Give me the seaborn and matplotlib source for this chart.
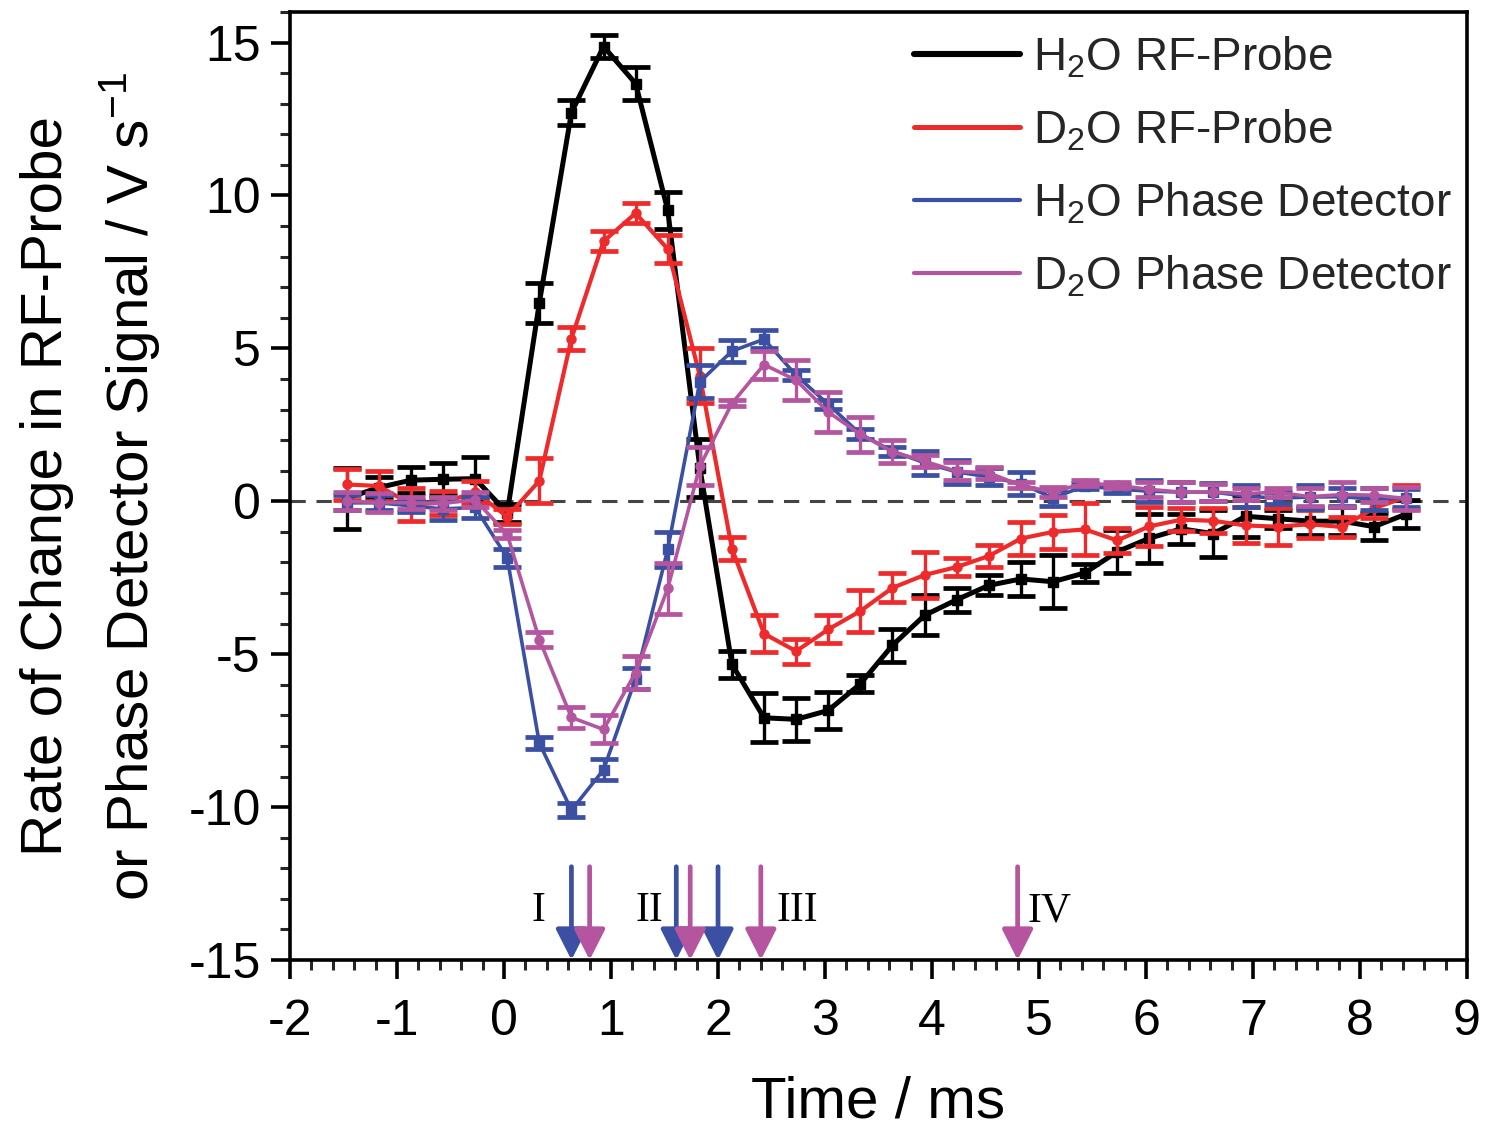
import numpy as np
import pandas as pd
import matplotlib
matplotlib.use("Agg")
import matplotlib.pyplot as plt
import seaborn as sns
from matplotlib.ticker import MultipleLocator
from matplotlib.lines import Line2D

# ---------------- data ----------------
time_ms = [-1.47, -1.17, -0.87, -0.57, -0.27, 0.03, 0.33, 0.63, 0.93, 1.23,
           1.53, 1.83, 2.13, 2.43, 2.73, 3.03, 3.33, 3.63, 3.93, 4.23,
           4.53, 4.83, 5.13, 5.43, 5.73, 6.03, 6.33, 6.63, 6.93, 7.23,
           7.53, 7.83, 8.13, 8.43]

h2o_rf = [0.1, 0.45, 0.69, 0.72, 0.74, -0.38, 6.49, 12.71, 14.87, 13.66,
          9.52, 1.1, -5.33, -7.08, -7.13, -6.84, -5.97, -4.71, -3.73, -3.22,
          -2.75, -2.54, -2.63, -2.34, -1.65, -1.21, -0.9, -1.06, -0.49, -0.57,
          -0.65, -0.65, -0.83, -0.42]
h2o_rf_err = [1.0, 0.35, 0.43, 0.52, 0.71, 0.3, 0.65, 0.41, 0.38, 0.55,
              0.6, 0.95, 0.45, 0.8, 0.7, 0.6, 0.28, 0.55, 0.65, 0.4,
              0.33, 0.55, 0.87, 0.3, 0.7, 0.8, 0.5, 0.77, 0.68, 0.3,
              0.46, 0.45, 0.45, 0.45]

d2o_rf = [0.55, 0.5, -0.1, -0.05, 0.3, -0.5, 0.67, 5.32, 8.5, 9.42,
          8.25, 4.1, -1.55, -4.33, -4.9, -4.19, -3.59, -2.83, -2.41, -2.15,
          -1.79, -1.22, -1.0, -0.92, -1.28, -0.82, -0.6, -0.64, -0.79, -0.83,
          -0.75, -0.84, -0.23, 0.14]
d2o_rf_err = [0.5, 0.5, 0.55, 0.4, 0.35, 0.25, 0.74, 0.38, 0.33, 0.32,
              0.47, 0.9, 0.38, 0.6, 0.41, 0.46, 0.68, 0.47, 0.76, 0.28,
              0.35, 0.55, 0.55, 0.85, 0.4, 0.63, 0.38, 0.41, 0.59, 0.6,
              0.46, 0.33, 0.33, 0.38]

h2o_pd = [-0.05, -0.05, -0.15, -0.25, -0.2, -1.85, -7.91, -10.1, -8.78, -5.8,
          -1.57, 3.91, 4.91, 5.3, 4.12, 3.17, 2.2, 1.64, 1.26, 0.96,
          0.8, 0.58, 0.11, 0.5, 0.4, 0.33, 0.3, 0.3, 0.17, 0.1,
          0.14, 0.15, 0.07, 0.1]
h2o_pd_err = [0.25, 0.25, 0.2, 0.37, 0.35, 0.3, 0.2, 0.22, 0.34, 0.35,
              0.57, 0.54, 0.35, 0.3, 0.17, 0.15, 0.15, 0.15, 0.4, 0.38,
              0.28, 0.38, 0.25, 0.1, 0.12, 0.35, 0.33, 0.3, 0.36, 0.2,
              0.38, 0.3, 0.36, 0.3]

d2o_pd = [0.0, -0.04, -0.05, -0.07, 0.05, -1.08, -4.52, -7.07, -7.46, -5.6,
          -2.85, 1.15, 3.2, 4.47, 3.96, 2.92, 2.19, 1.62, 1.31, 0.98,
          0.93, 0.52, 0.3, 0.6, 0.52, 0.39, 0.3, 0.3, 0.25, 0.3,
          0.15, 0.22, 0.2, 0.09]
d2o_pd_err = [0.3, 0.3, 0.2, 0.22, 0.25, 0.13, 0.25, 0.35, 0.46, 0.55,
              0.82, 0.63, 0.1, 0.46, 0.65, 0.65, 0.57, 0.38, 0.19, 0.3,
              0.19, 0.1, 0.16, 0.1, 0.1, 0.25, 0.33, 0.28, 0.2, 0.15,
              0.3, 0.41, 0.22, 0.38]

series_labels = ["H$_2$O RF-Probe", "D$_2$O RF-Probe",
                 "H$_2$O Phase Detector", "D$_2$O Phase Detector"]

arrow_x_h2o = [0.63, 1.61, 2.0]
arrow_x_d2o = [0.8, 1.74, 2.4, 4.8]
region_labels = ["I", "II", "III", "IV"]
region_x = [0.32, 1.36, 2.74, 5.1]

# ---------------- style ----------------
sns.set_theme(style="ticks")
plt.rcParams["font.family"] = ["Liberation Sans", "DejaVu Sans"]
plt.rcParams["mathtext.default"] = "regular"
plt.rcParams["axes.unicode_minus"] = False

C_BLACK = "#000000"
C_RED = "#EE2A2B"
C_BLUE = "#3B4FA3"
C_PURPLE = "#B5559F"

fig = plt.figure(figsize=(14.85, 11.33), dpi=100)
ax = fig.add_axes([0.1953, 0.1527, 0.7926, 0.8367])

df = pd.DataFrame({"time": time_ms})
specs = [
    (h2o_rf, h2o_rf_err, C_BLACK, 3.6, "s", 1),
    (d2o_rf, d2o_rf_err, C_RED, 3.0, "o", 2),
    (h2o_pd, h2o_pd_err, C_BLUE, 2.6, "s", 3),
    (d2o_pd, d2o_pd_err, C_PURPLE, 2.6, "o", 4),
]
handles = []
for (vals, errs, col, lw, mk, z), lab in zip(specs, series_labels):
    df["val"] = vals
    sns.lineplot(data=df, x="time", y="val", color=col, linewidth=lw,
                 ax=ax, legend=False, zorder=z, sort=False)
    ax.errorbar(time_ms, vals, yerr=errs, fmt=mk, color=col, ms=6.5,
                elinewidth=2.4, capsize=10, capthick=3.4, zorder=z)
    handles.append(Line2D([0], [0], color=col,
                          lw=4.4 if col == C_BLACK else (3.6 if col == C_RED else 3.0)))

ax.axhline(0, color="#444444", lw=2.2, ls=(0, (5, 3.5)), zorder=0.5)

# arrows
for xs, col in [(arrow_x_h2o, C_BLUE), (arrow_x_d2o, C_PURPLE)]:
    for xv in xs:
        ax.annotate("", xy=(xv, -15.0), xytext=(xv, -11.95),
                    arrowprops=dict(arrowstyle="-|>,head_length=0.75,head_width=0.38",
                                    color=col, lw=3.4, mutation_scale=25,
                                    shrinkA=0, shrinkB=0), zorder=5)
for xv, lab in zip(region_x, region_labels):
    ax.text(xv, -13.4, lab, ha="center", va="center", fontsize=30,
            family=["Liberation Serif", "DejaVu Serif"], color="black")

# axes
ax.set_xlim(-2, 9)
ax.set_ylim(-15, 16)
ax.xaxis.set_major_locator(MultipleLocator(1))
ax.xaxis.set_minor_locator(MultipleLocator(0.2))
ax.yaxis.set_major_locator(MultipleLocator(5))
ax.yaxis.set_minor_locator(MultipleLocator(1))
ax.tick_params(axis="both", which="major", length=14, width=2.6,
               labelsize=36, color="black", labelcolor="black", direction="out")
ax.tick_params(axis="both", which="minor", length=7, width=2.2, direction="out")
ax.tick_params(axis="x", which="major", pad=14)
ax.tick_params(axis="y", which="major", pad=7)
for sp in ax.spines.values():
    sp.set_visible(True)
    sp.set_linewidth(2.6)
    sp.set_color("black")

ax.set_xlabel("Time / ms", fontsize=42, labelpad=22, color="black")
ax.set_ylabel("Rate of Change in RF-Probe\nor Phase Detector Signal / V s$^{-1}$",
              fontsize=42, labelpad=19, color="black", linespacing=1.45)

leg = ax.legend(handles, series_labels, loc="upper right",
                bbox_to_anchor=(1.006, 1.0), frameon=False, fontsize=33,
                handlelength=2.3, handletextpad=0.28, labelspacing=0.6,
                borderaxespad=0.3, borderpad=0.2)

fig.savefig("out.png", dpi=100)
